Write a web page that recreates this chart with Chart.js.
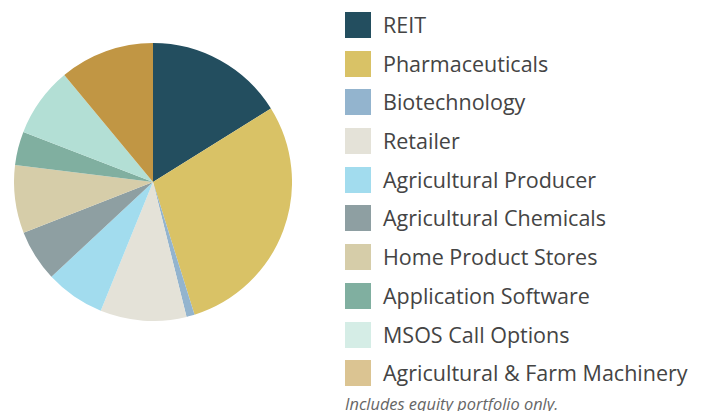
<!DOCTYPE html>
<html>
<head>
<meta charset="utf-8">
<script src="https://cdn.jsdelivr.net/npm/chart.js@4"></script>
<style>
  html, body { margin: 0; padding: 0; background: #fff; }
  body { width: 704px; height: 411px; position: relative; overflow: hidden; font-family: 'Open Sans', sans-serif; }
  #pieWrap { position: absolute; left: 14px; top: 43px; width: 278px; height: 278px; }
  #legend { position: absolute; left: 345px; top: 12px; }
  .item { height: 38.7px; display: flex; align-items: flex-start; }
  .box { width: 26px; height: 26px; flex: none; }
  .lbl { margin-left: 12px; font-size: 21.5px; line-height: 26px; color: #444; white-space: nowrap; }
  #note { position: absolute; left: 345px; top: 392px; font-size: 16.4px; font-style: italic; color: #666; white-space: nowrap; }
</style>
</head>
<body>
<div id="pieWrap"><canvas id="sectorChart" width="278" height="278"></canvas></div>
<div id="legend"></div>
<div id="note">Includes equity portfolio only.</div>
<script>
const categories = [
  'REIT',
  'Pharmaceuticals',
  'Biotechnology',
  'Retailer',
  'Agricultural Producer',
  'Agricultural Chemicals',
  'Home Product Stores',
  'Application Software',
  'MSOS Call Options',
  'Agricultural & Farm Machinery',
]
const weights = [16.1, 29.0, 0.95, 10.0, 6.9, 6.0, 7.9, 3.9, 8.1, 11.0]
const sliceColors = ['#234e5f', '#d9c266', '#93b4ce', '#e4e2d8', '#a2dcee', '#8e9fa2', '#d6cda9', '#80afa0', '#b3dfd5', '#c19644']
const legendColors = ['#234e5f', '#d9c266', '#93b4ce', '#e4e2d8', '#a2dcee', '#8e9fa2', '#d6cda9', '#80afa0', '#d5ede6', '#dbc492']

const canvas = document.getElementById('sectorChart')
new Chart(canvas, {
  type: 'pie',
  data: {
    labels: categories,
    datasets: [
      {
        data: weights,
        backgroundColor: sliceColors,
        borderWidth: 0,
      },
    ],
  },
  options: {
    responsive: false,
    animation: false,
    layout: { padding: 0 },
    plugins: {
      legend: { display: false },
      tooltip: { enabled: false },
    },
  },
})

const legend = document.getElementById('legend')
categories.forEach((name, i) => {
  const row = document.createElement('div')
  row.className = 'item'
  row.innerHTML = '<span class="box" style="background:' + legendColors[i] + '"></span><span class="lbl"></span>'
  row.querySelector('.lbl').textContent = name
  legend.appendChild(row)
})
</script>
</body>
</html>
